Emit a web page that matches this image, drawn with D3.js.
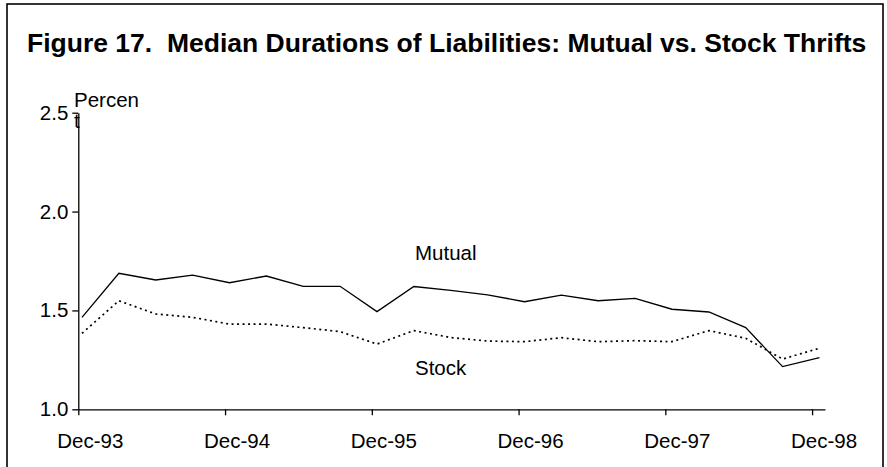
<!DOCTYPE html>
<html>
<head>
<meta charset="utf-8">
<script src="https://cdn.jsdelivr.net/npm/d3@7.9.0/dist/d3.min.js"></script>
<style>
  html, body { margin: 0; padding: 0; background: #fff; }
  svg { display: block; font-family: "Liberation Sans", Arial, sans-serif; }
  .axis path, .axis line { stroke: #000; stroke-width: 1.3; }
  .axis text { font-size: 20.5px; fill: #000; }
  .title { white-space: pre; }
</style>
</head>
<body>
<svg id="chart" width="887" height="467"></svg>
<script>
/* ---------------- DATA ---------------- */

const quarters = [
  "Dec-93", "Mar-94", "Jun-94", "Sep-94",
  "Dec-94", "Mar-95", "Jun-95", "Sep-95",
  "Dec-95", "Mar-96", "Jun-96", "Sep-96",
  "Dec-96", "Mar-97", "Jun-97", "Sep-97",
  "Dec-97", "Mar-98", "Jun-98", "Sep-98",
  "Dec-98"
];

const mutual = [
  1.465, 1.688, 1.654, 1.679, 1.640, 1.674, 1.622, 1.622, 1.494, 1.621,
  1.601, 1.579, 1.544, 1.577, 1.549, 1.561, 1.506, 1.492, 1.413, 1.216,
  1.261
];

const stock = [
  1.384, 1.549, 1.482, 1.465, 1.431, 1.431, 1.413, 1.393, 1.330, 1.398,
  1.363, 1.345, 1.342, 1.362, 1.342, 1.347, 1.342, 1.398, 1.359, 1.254,
  1.309
];

const yearLabels = ["Dec-93", "Dec-94", "Dec-95", "Dec-96", "Dec-97", "Dec-98"];
const yTicks = [1.0, 1.5, 2.0, 2.5];

/* ---------------- LAYOUT ---------------- */

const svg = d3.select("#chart");

// outer frame
svg.append("rect")
  .attr("x", 7).attr("y", 4)
  .attr("width", 876).attr("height", 480)
  .attr("fill", "none")
  .attr("stroke", "#000")
  .attr("stroke-width", 1.6);

svg.append("text")
  .attr("class", "title")
  .attr("x", 27).attr("y", 52)
  .attr("font-size", "26.5px")
  .attr("font-weight", "bold")
  .text("Figure 17.  Median Durations of Liabilities: Mutual vs. Stock Thrifts");

/* ---------------- SCALES ---------------- */

const x = d3.scaleLinear()
  .domain([-0.1, quarters.length - 1 + 0.15])
  .range([78.3, 825]);

const y = d3.scaleLinear()
  .domain([1.0, 2.5])
  .range([409.3, 112.7]);

/* ---------------- AXES ---------------- */

// year ticks sit slightly left of the Dec data points
const xTickVals = yearLabels.map((d, k) => k * 3.98 - 0.1);

const xAxis = svg.append("g")
  .attr("class", "axis")
  .attr("transform", `translate(0,${y(1.0)})`)
  .call(d3.axisBottom(x)
    .tickValues(xTickVals)
    .tickFormat((d, i) => yearLabels[i])
    .tickSize(6)
    .tickSizeOuter(0)
    .tickPadding(18));

xAxis.selectAll("text").attr("dx", 11.5);

svg.append("g")
  .attr("class", "axis")
  .attr("transform", `translate(${x(-0.1)},0)`)
  .call(d3.axisLeft(y)
    .tickValues(yTicks)
    .tickFormat(d3.format(".1f"))
    .tickSize(6)
    .tickSizeOuter(0)
    .tickPadding(4));

svg.append("text")
  .attr("x", 74).attr("y", 106.5)
  .attr("font-size", "20.5px")
  .text("Percen");
svg.append("text")
  .attr("x", 74).attr("y", 128)
  .attr("font-size", "20.5px")
  .text("t");

/* ---------------- LINES ---------------- */

const line = d3.line()
  .x((d, i) => x(i))
  .y(d => y(d));

svg.append("path")
  .datum(mutual)
  .attr("d", line)
  .attr("fill", "none")
  .attr("stroke", "#000")
  .attr("stroke-width", 1.3);

svg.append("path")
  .datum(stock)
  .attr("d", line)
  .attr("fill", "none")
  .attr("stroke", "#000")
  .attr("stroke-width", 1.7)
  .attr("stroke-dasharray", "2,3.5");

svg.append("text")
  .attr("x", 415).attr("y", 259.5)
  .attr("font-size", "20.5px")
  .text("Mutual");

svg.append("text")
  .attr("x", 415).attr("y", 375)
  .attr("font-size", "20.5px")
  .text("Stock");
</script>
</body>
</html>
